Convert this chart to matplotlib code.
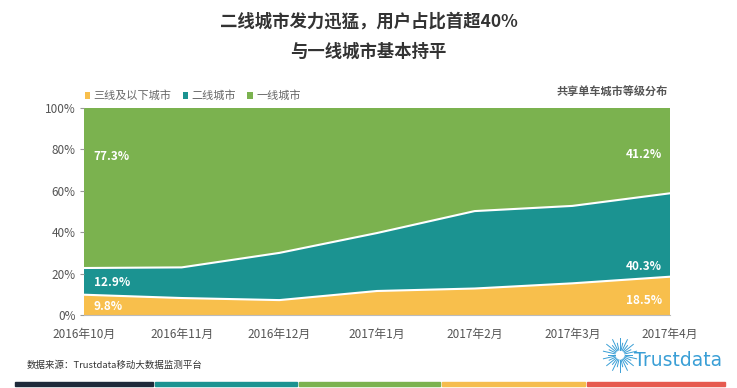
import numpy as np
import matplotlib.pyplot as plt

plt.rcParams['font.family'] = ['Noto Sans CJK SC', 'DejaVu Sans']

months = ['2016年10月', '2016年11月', '2016年12月', '2017年1月',
          '2017年2月', '2017年3月', '2017年4月']
tier3 = [9.8, 8.2, 7.2, 11.6, 12.8, 15.3, 18.5]
tier2 = [12.9, 14.8, 22.8, 28.0, 37.4, 37.4, 40.3]
tier1 = [77.3, 77.0, 70.0, 60.4, 49.8, 47.3, 41.2]
names = ['三线及以下城市', '二线城市', '一线城市']
colors = ['#F8BF4C', '#1B9391', '#7BB24F']

x = np.arange(len(months))
fig = plt.figure(figsize=(7.37, 3.88), dpi=100)
ax = fig.add_axes([84 / 737, 1 - 315 / 388, 586 / 737, 207 / 388])

ax.stackplot(x, tier3, tier2, tier1, colors=colors, labels=names)
c1 = np.array(tier3)
c2 = c1 + np.array(tier2)
ax.plot(x, c1, color='white', lw=1.5)
ax.plot(x, c2, color='white', lw=1.5)

ax.set_xlim(0, len(months) - 1)
ax.set_ylim(0, 100)
ax.set_yticks(range(0, 101, 20))
ax.set_yticklabels([f'{v}%' for v in range(0, 101, 20)])
ax.set_xticks(x)
ax.set_xticklabels(months)
ax.tick_params(axis='y', length=3, color='#999999', labelcolor='#555555',
               labelsize=8.5, pad=3)
ax.tick_params(axis='x', length=0, labelcolor='#555555', labelsize=8.5, pad=9)
for s in ['top', 'right', 'left']:
    ax.spines[s].set_visible(False)
ax.spines['bottom'].set_color('#BBBBBB')

# data labels (first and last month)
lab = dict(color='white', fontsize=8.5, fontweight='bold', va='center')
ax.text(0.1, 76.8, f'{tier1[0]}%', ha='left', **lab)
ax.text(0.1, 15.5, f'{tier2[0]}%', ha='left', **lab)
ax.text(0.1, 3.9, f'{tier3[0]}%', ha='left', **lab)
ax.text(5.92, 77.3, f'{tier1[-1]}%', ha='right', **lab)
ax.text(5.92, 23.2, f'{tier2[-1]}%', ha='right', **lab)
ax.text(5.92, 6.8, f'{tier3[-1]}%', ha='right', **lab)

leg = ax.legend(loc='lower left', bbox_to_anchor=(-0.01, 1.0), ncol=3,
                frameon=False, fontsize=8, handlelength=0.5, handleheight=0.5,
                handletextpad=0.3, columnspacing=1.0, borderaxespad=0.2)
for t in leg.get_texts():
    t.set_color('#666666')

fig.text(668 / 737, 1 - 92 / 388, '共享单车城市等级分布', ha='right', va='center',
         fontsize=8, fontweight='bold', color='#555555')

fig.text(0.5, 1 - 22 / 388, '二线城市发力迅猛，用户占比首超40%', ha='center',
         va='center', fontsize=12.5, fontweight='bold', color='#333333')
fig.text(0.5, 1 - 52 / 388, '与一线城市基本持平', ha='center',
         va='center', fontsize=12.5, fontweight='bold', color='#333333')

fig.text(27 / 737, 1 - 365 / 388, '数据来源：Trustdata移动大数据监测平台',
         ha='left', va='center', fontsize=6.8, color='#333333')

# logo
fig.text(634 / 737, 1 - 361 / 388, 'Trustdata', ha='left', va='center',
         fontsize=13.5, color='#3A9FD6', family='Liberation Sans Narrow')
cx, cy = 620 / 737, 1 - 355 / 388
for i, a in enumerate(np.linspace(0, 2 * np.pi, 28, endpoint=False)):
    r0, r1 = 5, (17 if i % 2 else 12)
    fig.add_artist(plt.Line2D([cx + r0 * np.cos(a) / 737, cx + r1 * np.cos(a) / 737],
                              [cy + r0 * np.sin(a) / 388, cy + r1 * np.sin(a) / 388],
                              color='#3A9FD6', lw=0.7))

# bottom stripe
stripe = ['#1E2A3A', '#1B9391', '#7BB24F', '#F5BD4F', '#E65A4F']
bounds = [15, 155, 299, 442, 587, 727]
for i, c in enumerate(stripe):
    fig.add_artist(plt.Rectangle((bounds[i] / 737, 1 - 385.5 / 388),
                                 (bounds[i + 1] - bounds[i] - 2) / 737, 4 / 388,
                                 color=c))

fig.savefig('out.png', dpi=100)
